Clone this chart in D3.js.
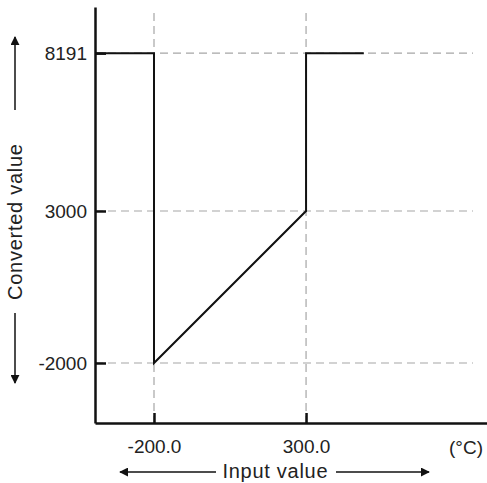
<!DOCTYPE html>
<html lang="en">
<head>
<meta charset="UTF-8">
<title>Converted value vs input value</title>
<script src="https://d3js.org/d3.v7.min.js"></script>
<style>
    body { margin: 0; background: #fff; }
    svg text { font-family: "Liberation Sans", Arial, sans-serif; font-size: 19px; fill: #222; }
    .title { font-size: 20px; }
    .axis path, .axis line { stroke: #111; stroke-width: 2.5; }
    .guide { stroke: #a6a6a6; stroke-width: 1.2; stroke-dasharray: 8 5; }
    .trace { fill: none; stroke: #111; stroke-width: 2; }
    .arrow { stroke: #111; stroke-width: 1.5; }
</style>
</head>
<body>
<div id="chart"></div>
<script>

// ticks shown on each axis
const xTicks = [-200, 300];
const xTickLabels = ["-200.0", "300.0"];
const yTicks = [8191, 3000, -2000];
const yTickLabels = ["8191", "3000", "-2000"];

// conversion characteristic (input °C -> converted value)
const inputValues = [-394, -200, -200, 300, 300, 490];
const convertedValues = [8191, 8191, -2000, 3000, 8191, 8191];

const W = 487, H = 483;

const svg = d3.select("#chart").append("svg")
    .attr("width", W)
    .attr("height", H);

const x = d3.scaleLinear().domain([-394, 895]).range([95, 487]);
const y = d3.scaleLinear().domain([-3974, 9710]).range([423, 7]);

// dashed guide lines
svg.selectAll(".vguide")
    .data(xTicks)
    .enter().append("line")
    .attr("class", "guide")
    .attr("x1", d => x(d)).attr("x2", d => x(d))
    .attr("y1", 13).attr("y2", y.range()[0]);

svg.selectAll(".hguide")
    .data(yTicks)
    .enter().append("line")
    .attr("class", "guide")
    .attr("x1", x.range()[0]).attr("x2", 473)
    .attr("y1", d => y(d)).attr("y2", d => y(d));

// axes
svg.append("g")
    .attr("class", "axis")
    .attr("transform", `translate(${x.range()[0]},0)`)
    .call(d3.axisLeft(y)
        .tickValues(yTicks)
        .tickFormat((d, i) => yTickLabels[i])
        .tickSizeInner(-11)
        .tickSizeOuter(0)
        .tickPadding(8))
    .call(g => g.selectAll("text").attr("font-size", null));

svg.append("g")
    .attr("class", "axis")
    .attr("transform", `translate(0,${y.range()[0]})`)
    .call(d3.axisBottom(x)
        .tickValues(xTicks)
        .tickFormat((d, i) => xTickLabels[i])
        .tickSizeInner(-10)
        .tickSizeOuter(0)
        .tickPadding(17))
    .call(g => g.selectAll("text").attr("font-size", null));

// conversion trace
const pts = inputValues.map((v, i) => [v, convertedValues[i]]);
svg.append("path")
    .datum(pts)
    .attr("class", "trace")
    .attr("d", d3.line().x(d => x(d[0])).y(d => y(d[1])));

// unit label
svg.append("text")
    .attr("x", 466).attr("y", 447)
    .attr("text-anchor", "middle")
    .attr("dominant-baseline", "central")
    .text("(°C)");

// arrowheads
const defs = svg.append("defs");
defs.append("marker")
    .attr("id", "head")
    .attr("viewBox", "0 0 10 10")
    .attr("refX", 9).attr("refY", 5)
    .attr("markerWidth", 9).attr("markerHeight", 9)
    .attr("markerUnits", "userSpaceOnUse")
    .attr("orient", "auto")
    .append("path")
    .attr("d", "M0,0 L10,5 L0,10 Z")
    .attr("fill", "#111");

// x title with arrows
svg.append("text")
    .attr("class", "title")
    .attr("x", 275).attr("y", 471)
    .attr("text-anchor", "middle")
    .attr("dominant-baseline", "central")
    .attr("textLength", 105)
    .text("Input value");
svg.append("line").attr("class", "arrow")
    .attr("x1", 216).attr("y1", 472).attr("x2", 120).attr("y2", 472)
    .attr("marker-end", "url(#head)");
svg.append("line").attr("class", "arrow")
    .attr("x1", 336).attr("y1", 472).attr("x2", 429).attr("y2", 472)
    .attr("marker-end", "url(#head)");

// y title with arrows
svg.append("text")
    .attr("class", "title")
    .attr("transform", "translate(15,222) rotate(-90)")
    .attr("text-anchor", "middle")
    .attr("dominant-baseline", "central")
    .attr("textLength", 156)
    .text("Converted value");
svg.append("line").attr("class", "arrow")
    .attr("x1", 15).attr("y1", 110).attr("x2", 15).attr("y2", 37)
    .attr("marker-end", "url(#head)");
svg.append("line").attr("class", "arrow")
    .attr("x1", 15).attr("y1", 313).attr("x2", 15).attr("y2", 383)
    .attr("marker-end", "url(#head)");
</script>
</body>
</html>
